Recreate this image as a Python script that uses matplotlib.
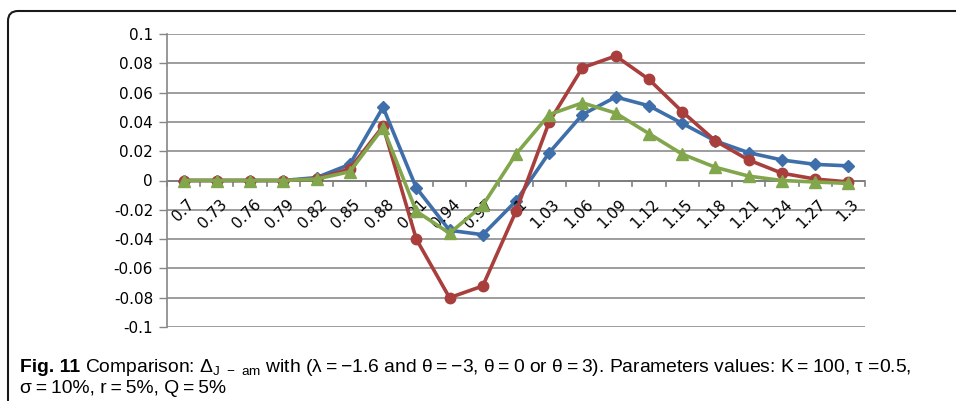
import matplotlib
matplotlib.use("Agg")
import matplotlib.pyplot as plt
from matplotlib.patches import FancyBboxPatch
from matplotlib.transforms import offset_copy

strikes = ['0.7', '0.73', '0.76', '0.79', '0.82', '0.85', '0.88', '0.91', '0.94', '0.97', '1',
           '1.03', '1.06', '1.09', '1.12', '1.15', '1.18', '1.21', '1.24', '1.27', '1.3']
theta_m3 = [0, 0, 0, 0, 0.002, 0.011, 0.050, -0.005, -0.034, -0.037, -0.014,
            0.019, 0.045, 0.057, 0.051, 0.039, 0.027, 0.019, 0.014, 0.011, 0.010]
theta_0 = [0, 0, 0, 0, 0.001, 0.008, 0.037, -0.040, -0.080, -0.072, -0.021,
           0.040, 0.077, 0.085, 0.069, 0.047, 0.027, 0.014, 0.005, 0.001, -0.001]
theta_3 = [0, 0, 0, 0, 0.001, 0.006, 0.036, -0.021, -0.036, -0.017, 0.018,
           0.045, 0.053, 0.046, 0.032, 0.018, 0.009, 0.003, 0.000, -0.001, -0.002]
yticks = [-0.1, -0.08, -0.06, -0.04, -0.02, 0, 0.02, 0.04, 0.06, 0.08, 0.1]
ylabels = ['-0.1', '-0.08', '-0.06', '-0.04', '-0.02', '0', '0.02', '0.04', '0.06', '0.08', '0.1']

plt.rcParams['font.family'] = ['Liberation Sans', 'DejaVu Sans']
plt.rcParams['mathtext.fontset'] = 'custom'
plt.rcParams['mathtext.rm'] = 'Liberation Sans'

W, H = 956, 401
fig = plt.figure(figsize=(W / 100, H / 100), dpi=100)

# rounded frame (pixel coords), clipped at right and bottom
frame = FancyBboxPatch((8, -60), 1100, H - 11 + 60,
                       boxstyle="round,pad=0,rounding_size=10",
                       transform=None, fill=False,
                       edgecolor='#1a1a1a', linewidth=1.5)
fig.patches.append(frame)

ax = fig.add_axes([167 / W, 1 - 327 / H, (865 - 167) / W, (327 - 34) / H])
x = list(range(len(strikes)))

ax.plot(x, theta_m3, color='#3F6FAA', lw=2.6, marker='D', ms=6.5, zorder=3)
ax.plot(x, theta_0, color='#A83F3D', lw=2.6, marker='o', ms=7.5, zorder=4)
ax.plot(x, theta_3, color='#82A64B', lw=2.6, marker='^', ms=8.5, zorder=5)

ax.set_xlim(-0.5, len(strikes) - 0.5)
ax.set_ylim(-0.1, 0.1)
ax.set_yticks(yticks)
ax.set_yticklabels(ylabels, fontfamily='DejaVu Sans', fontsize=11)
ax.tick_params(axis='y', length=6, color='#868686', width=1, pad=4)
ax.grid(axis='y', color='#8C8C8C', lw=1.2)
ax.set_axisbelow(True)
for s in ['top', 'right', 'bottom']:
    ax.spines[s].set_visible(False)
ax.spines['left'].set_color('#868686')
ax.spines['left'].set_linewidth(1.2)

# category axis crossing at zero
ax.axhline(0, color='#7F7F7F', lw=1.4, zorder=2)
ax.set_xticks([])
for b in range(len(strikes) + 1):
    ax.plot([b - 0.5, b - 0.5], [0, -0.0035], color='#7F7F7F', lw=1.2, zorder=2,
            clip_on=False)
for i, lab in enumerate(strikes):
    tr = offset_copy(ax.transData, fig=fig, x=3, y=-16, units='dots')
    ax.text(i, 0, lab, transform=tr, rotation=45, rotation_mode='anchor',
            ha='right', va='top', fontfamily='DejaVu Sans', fontsize=11)

# caption, fitted to the width of the reference line
r = fig.canvas.get_renderer()
line1 = ('Comparison: \u0394$_{\\mathregular{J\\ -\\ am}}$ with (\u03bb\u2009=\u2009\u22121.6 and \u03b8\u2009=\u2009\u22123, '
         '\u03b8\u2009=\u20090 or \u03b8\u2009=\u20093). Parameters values: K\u2009=\u2009100, \u03c4 =0.5,')
line2 = '\u03c3\u2009=\u200910%, r\u2009=\u20095%, Q\u2009=\u20095%'
fs = 12
t1 = fig.text(20 / W, 1 - 372 / H, 'Fig. 11', fontsize=fs, fontweight='bold', va='baseline')
t2 = fig.text(0, 1 - 372 / H, line1, fontsize=fs, va='baseline')
t3 = fig.text(20 / W, 1 - 393 / H, line2, fontsize=fs, va='baseline')
for _ in range(3):
    bb = t1.get_window_extent(renderer=r)
    t2.set_x((bb.x1 + 5) / W)
    end = t2.get_window_extent(renderer=r).x1
    fs = fs * (915 - 20) / (end - 20)
    for t in (t1, t2, t3):
        t.set_fontsize(fs)
bb = t1.get_window_extent(renderer=r)
t2.set_x((bb.x1 + 5) / W)

fig.savefig('out.png', dpi=100)
